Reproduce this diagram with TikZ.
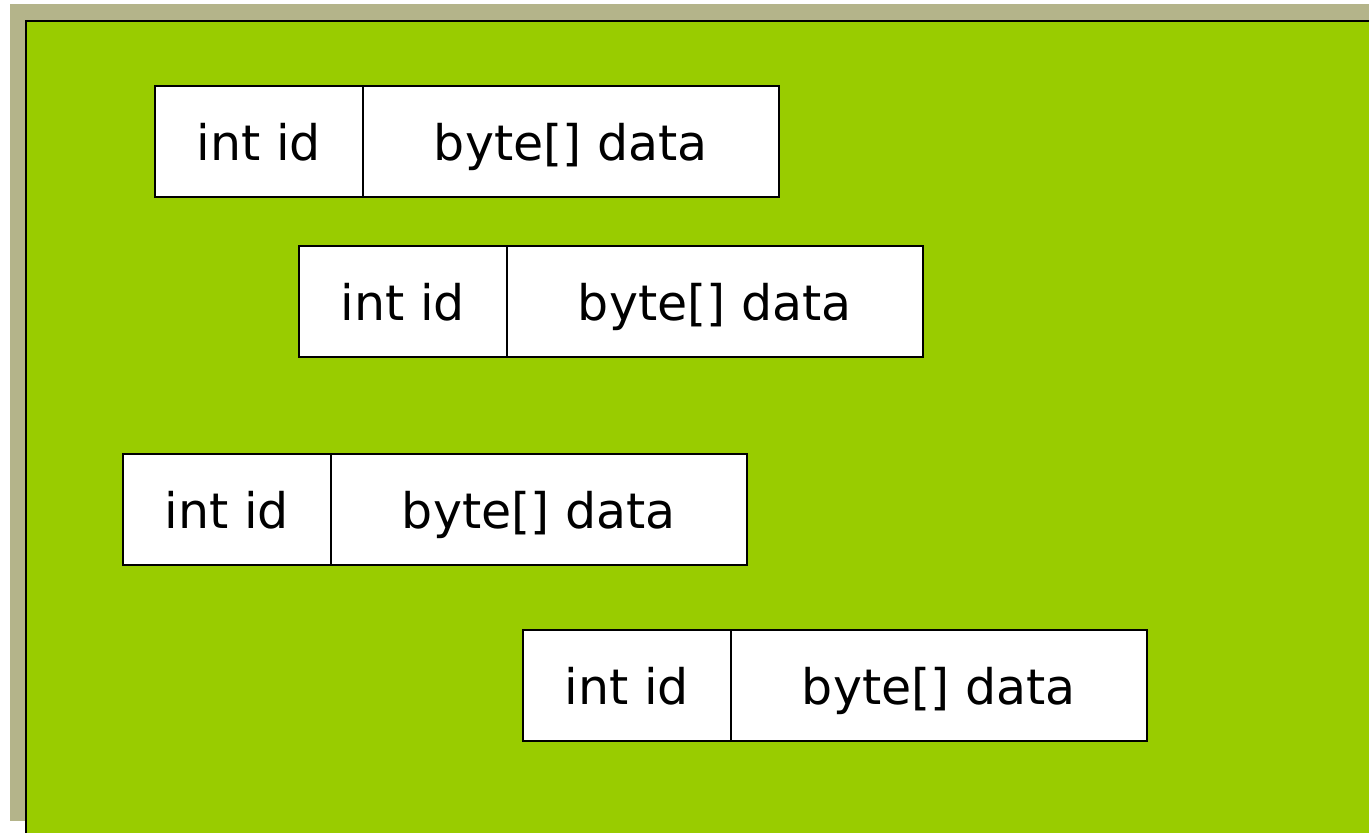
\documentclass[tikz,border=0pt]{standalone}
\usepackage{fontspec}
\setmainfont{DejaVu Sans}
\definecolor{bggreen}{HTML}{99CC00}
\definecolor{shadowtan}{HTML}{B4B48A}
\begin{document}
\begin{tikzpicture}[x=1pt,y=-1pt,
  cell/.style={draw=black,line width=1.5pt,fill=white,inner sep=0pt,
    text height=44pt,text depth=5pt,
    font=\fontsize{49}{58}\selectfont,anchor=north west}]
\useasboundingbox (0,0) rectangle (1369,833);
\fill[white] (0,0) rectangle (1369,833);
\fill[shadowtan] (10,4) rectangle (1369,821);
\fill[bggreen] (25,20) rectangle (1369,833);
\draw[black,line width=2pt] (26,833) -- (26,21) -- (1369,21);
\foreach \n/\x/\y in {a/154/85,b/298/245,c/122/453,d/522/629}{
  \node[cell,minimum width=208pt,minimum height=111pt] (\n id) at (\x,\y) {int id};
  \node[cell,minimum width=416pt,minimum height=111pt] (\n data) at (\x+208,\y) {byte[] data};
}
\end{tikzpicture}
\end{document}
